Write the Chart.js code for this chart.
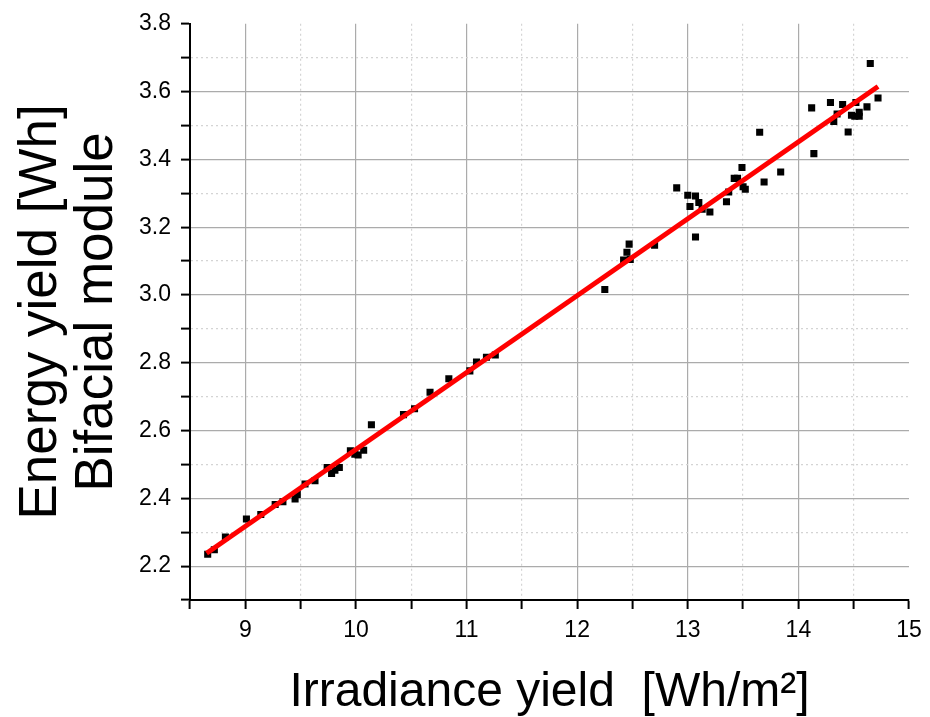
<!DOCTYPE html>
<html>
<head>
<meta charset="utf-8">
<title>Energy yield vs irradiance yield</title>
<script src="https://cdn.jsdelivr.net/npm/chart.js@4"></script>
<style>
  body { margin: 0; background: #ffffff; }
  #wrap { width: 930px; height: 717px; }
</style>
</head>
<body>
<div id="wrap"><canvas id="chart" width="930" height="717"></canvas></div>
<script>
// irradiance yield [Wh/m2] of each measured day
var irradiance = [
  8.66, 8.72, 8.82, 9.01, 9.14, 9.27, 9.34, 9.45, 9.47, 9.54,
  9.63, 9.74, 9.78, 9.81, 9.85, 9.95, 9.99, 10.02, 10.07, 10.14,
  10.43, 10.53, 10.67, 10.84, 11.03, 11.09, 11.18, 11.26,
  12.25, 12.42, 12.45, 12.47, 12.48, 12.70, 12.90, 13.00, 13.02, 13.07,
  13.07, 13.10, 13.13, 13.20, 13.35, 13.37, 13.42, 13.45, 13.49, 13.50,
  13.52, 13.65, 13.69, 13.84, 14.12, 14.14, 14.29, 14.32, 14.35, 14.40,
  14.45, 14.48, 14.51, 14.52, 14.55, 14.55, 14.62, 14.65, 14.72
];
// energy yield [Wh] of the bifacial module, same days
var energy = [
  2.235, 2.248, 2.286, 2.339, 2.352, 2.382, 2.390, 2.398, 2.411, 2.442,
  2.452, 2.491, 2.473, 2.483, 2.491, 2.540, 2.530, 2.528, 2.542, 2.617,
  2.647, 2.664, 2.713, 2.753, 2.776, 2.802, 2.816, 2.823,
  3.016, 3.103, 3.126, 3.150, 3.105, 3.147, 3.316, 3.294, 3.261, 3.292,
  3.171, 3.273, 3.253, 3.245, 3.275, 3.304, 3.344, 3.344, 3.376, 3.319,
  3.312, 3.480, 3.333, 3.363, 3.552, 3.417, 3.568, 3.512, 3.534, 3.562,
  3.481, 3.530, 3.527, 3.568, 3.539, 3.527, 3.555, 3.683, 3.581
];
// linear fit (end points)
var fitX = [8.65, 14.72];
var fitY = [2.238, 3.615];

var xMin = 8.5, xMax = 15;
var yMin = 2.1, yMax = 3.8;

function toPoints(xs, ys) {
  var pts = [];
  for (var i = 0; i < xs.length; i++) {
    pts.push({ x: xs[i], y: ys[i] });
  }
  return pts;
}

function isMajorX(v) {
  return Math.abs(v - Math.round(v)) < 1e-6;
}

function isMajorY(v) {
  return Math.round(v * 10) % 2 === 0;
}

// grid colour: solid grey on major ticks, light dashed on minor, none on the edges
function gridColor(ctx, major, edges) {
  if (!ctx.tick) return "#000000";
  var v = ctx.tick.value;
  for (var i = 0; i < edges.length; i++) {
    if (Math.abs(v - edges[i]) < 1e-6) return "rgba(0,0,0,0)";
  }
  return major(v) ? "#ababab" : "#d4d4d4";
}

var fontName = "'Liberation Sans', Arial, sans-serif";

var config = {
  type: "scatter",
  data: {
    datasets: [
      {
        label: "fit",
        data: toPoints(fitX, fitY),
        showLine: true,
        borderColor: "#ff0000",
        borderWidth: 5,
        pointRadius: 0,
        order: 0
      },
      {
        label: "measured",
        data: toPoints(irradiance, energy),
        pointStyle: "rect",
        pointRadius: 5,
        backgroundColor: "#000000",
        borderColor: "#000000",
        borderWidth: 0,
        order: 1
      }
    ]
  },
  options: {
    responsive: false,
    animation: false,
    layout: { padding: { top: 20, right: 21, left: 0, bottom: 0 } },
    plugins: {
      legend: { display: false },
      tooltip: { enabled: false }
    },
    scales: {
      x: {
        type: "linear",
        min: xMin,
        max: xMax,
        afterFit: function(scale) {
          scale.height = 117;
        },
        ticks: {
          stepSize: 0.5,
          autoSkip: false,
          maxRotation: 0,
          padding: 8,
          color: "#000000",
          font: { family: fontName, size: 23 },
          callback: function(v) {
            return isMajorX(v) ? String(Math.round(v)) : "";
          }
        },
        grid: {
          color: function(ctx) {
            return gridColor(ctx, isMajorX, [xMin, xMax]);
          },
          lineWidth: 1.2,
          tickLength: 9,
          tickColor: "#000000",
          tickWidth: 2
        },
        border: {
          color: "#000000",
          width: 2,
          dash: function(ctx) {
            if (ctx.tick && !isMajorX(ctx.tick.value)) return [2, 3];
            return [];
          }
        },
        title: {
          display: true,
          text: "Irradiance yield  [Wh/m\u00b2]",
          color: "#000000",
          font: { family: fontName, size: 48, lineHeight: 1.0 },
          padding: { top: 0, bottom: 0 }
        }
      },
      y: {
        type: "linear",
        min: yMin,
        max: yMax,
        afterFit: function(scale) {
          scale.width = 190;
        },
        ticks: {
          stepSize: 0.1,
          autoSkip: false,
          padding: 10,
          color: "#000000",
          font: { family: fontName, size: 23 },
          callback: function(v) {
            return isMajorY(v) ? Number(v).toFixed(1) : "";
          }
        },
        grid: {
          color: function(ctx) {
            return gridColor(ctx, isMajorY, [yMin, yMax]);
          },
          lineWidth: 1.2,
          tickLength: 9,
          tickColor: "#000000",
          tickWidth: 2
        },
        border: {
          color: "#000000",
          width: 2,
          dash: function(ctx) {
            if (ctx.tick && !isMajorY(ctx.tick.value)) return [2, 3];
            return [];
          }
        },
        title: {
          display: true,
          text: ["Energy yield [Wh]", "Bifacial module"],
          color: "#000000",
          font: { family: fontName, size: 53, lineHeight: 1.05 },
          padding: { top: 14, bottom: 0 }
        }
      }
    }
  }
};

new Chart(document.getElementById("chart"), config);
</script>
</body>
</html>
